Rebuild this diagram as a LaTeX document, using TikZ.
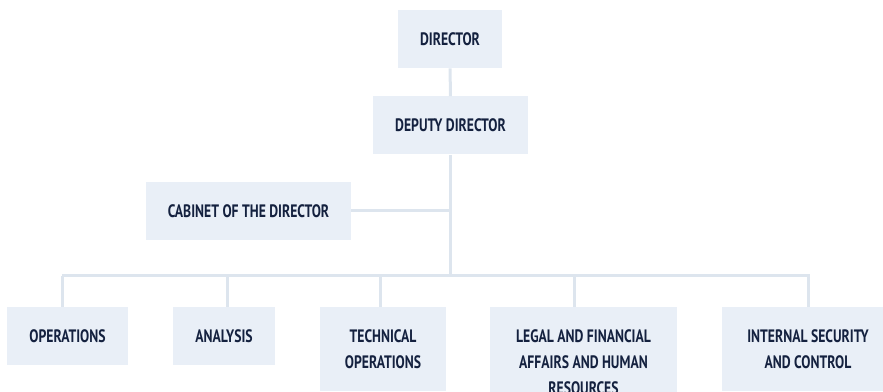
\documentclass[tikz,border=0pt]{standalone}
\usepackage{fontspec}
\setmainfont{PT Sans}[FakeStretch=0.76]
\usepackage{tikz}
\definecolor{boxblue}{HTML}{E9EFF7}
\definecolor{linegray}{HTML}{DDE5EE}
\definecolor{navy}{HTML}{14213F}
\tikzset{
  unit/.style={fill=boxblue, text=navy, align=center, inner sep=0pt,
    font=\bfseries\fontsize{13.5}{19.5}\selectfont, minimum height=43.5pt},
  link/.style={draw=linegray, line width=2.25pt}
}
\begin{document}
\begin{tikzpicture}[x=0.75pt, y=-0.75pt]
\useasboundingbox (0,0) rectangle (883,392);
\clip (0,0) rectangle (883,392);
\node[unit, minimum width=78pt] (director) at (450,39) {DIRECTOR};
\node[unit, minimum width=116.25pt] (deputy) at (450.5,125.5) {DEPUTY DIRECTOR};
\node[unit, minimum width=153.75pt] (cabinet) at (248.5,211) {CABINET OF THE DIRECTOR};
\node[unit, minimum width=90.75pt, anchor=north] (operations) at (67.5,307) {OPERATIONS};
\node[unit, minimum width=76.5pt, anchor=north] (analysis) at (224,307) {ANALYSIS};
\node[unit, minimum width=94.5pt, minimum height=63pt, anchor=north] (technical) at (383,307) {TECHNICAL\\OPERATIONS};
\node[unit, minimum width=140.25pt, minimum height=82.5pt, anchor=north] (legal) at (583.5,307) {LEGAL AND FINANCIAL\\AFFAIRS AND HUMAN\\RESOURCES};
\node[unit, minimum width=129pt, minimum height=63pt, anchor=north] (internal) at (808,307) {INTERNAL SECURITY\\AND CONTROL};
\coordinate (busL) at (63,276);
\coordinate (busR) at (808,276);
\draw[link] (director) -- (deputy);
\draw[link] (deputy) -- (deputy |- busL);
\draw[link] (cabinet) -- (cabinet -| deputy);
\draw[link, line cap=rect] (busL) -- (busR);
\foreach \n/\dx in {operations/-3.4, analysis/2.25, technical/-2.25, legal/-6.4, internal/0}
  \draw[link] ([xshift=\dx pt]\n.north) -- ([xshift=\dx pt]\n.north |- busL);
\end{tikzpicture}
\end{document}
